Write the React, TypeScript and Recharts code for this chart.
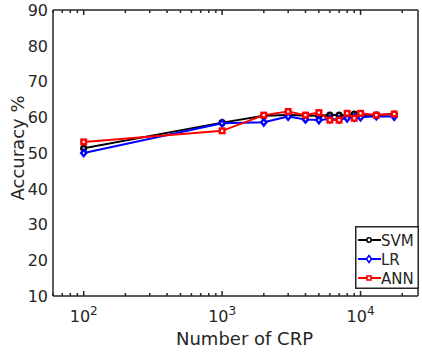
import React from "react";
import { LineChart, Line, XAxis, YAxis, Legend } from "recharts";

const crp = [100, 1000, 2000, 3000, 4000, 5000, 6000, 7000, 8000, 9000, 10000, 13000, 17500];
const svm = [51.3, 58.5, 60.4, 60.6, 60.5, 60.4, 60.6, 60.6, 60.4, 60.9, 60.7, 60.6, 60.9];
const lr = [50.0, 58.3, 58.6, 60.2, 59.4, 59.2, 59.5, 59.4, 59.7, 59.9, 60.0, 60.3, 60.2];
const ann = [53.1, 56.2, 60.6, 61.6, 60.6, 61.3, 59.2, 59.2, 61.1, 59.7, 61.1, 60.6, 60.9];

const xMajorTicks = [100, 1000, 10000];
const xExponents = ["2", "3", "4"];
const xMinorTicks = [60, 70, 80, 90, 200, 300, 400, 500, 600, 700, 800, 900, 2000, 3000, 4000, 5000, 6000, 7000, 8000, 9000, 20000];
const yTicks = [10, 20, 30, 40, 50, 60, 70, 80, 90];
const seriesNames = ["SVM", "LR", "ANN"];
const seriesColors = ["#000000", "#0000ff", "#ff0000"];

const data = crp.map((x, i) => ({ x, svm: svm[i], lr: lr[i], ann: ann[i] }));

const AXIS = "#262626";
const FONT = "DejaVu Sans";
const X_DOMAIN: [number, number] = [60, 26000];
const Y_DOMAIN: [number, number] = [10, 90];
const THIN = 0.01;

const CircleDot = (p: any) => {
  if (p.cx == null || p.cy == null) return null;
  return <circle cx={p.cx} cy={p.cy} r={2.4} fill="#fff" stroke={seriesColors[0]} strokeWidth={2.4} />;
};
const DiamondDot = (p: any) => {
  if (p.cx == null || p.cy == null) return null;
  const r = 3.2;
  return (
    <path
      d={`M${p.cx},${p.cy - r}L${p.cx + r * 0.8},${p.cy}L${p.cx},${p.cy + r}L${p.cx - r * 0.8},${p.cy}Z`}
      fill="#fff"
      stroke={seriesColors[1]}
      strokeWidth={2.4}
    />
  );
};
const SquareDot = (p: any) => {
  if (p.cx == null || p.cy == null) return null;
  const s = 2.3;
  return <rect x={p.cx - s} y={p.cy - s} width={2 * s} height={2 * s} fill="#fff" stroke={seriesColors[2]} strokeWidth={2.4} />;
};

const EmptyTick = () => <g />;

const XTick = (p: any) => {
  const idx = xMajorTicks.indexOf(p.payload.value);
  return (
    <text x={p.x} y={p.y + 26} textAnchor="middle" fontFamily={FONT} fontSize={16} fill={AXIS}>
      <tspan>10</tspan>
      <tspan dy={-7} fontSize={12}>{xExponents[idx]}</tspan>
    </text>
  );
};

const YTick = (p: any) => (
  <text x={p.x - 5} y={p.y} dy="0.36em" textAnchor="end" fontFamily={FONT} fontSize={16} fill={AXIS}>
    {p.payload.value}
  </text>
);

const XLabel = (p: any) => {
  const vb = p.viewBox;
  return (
    <text x={vb.x + vb.width / 2 + 9} y={vb.y + 49} textAnchor="middle" fontFamily={FONT} fontSize={18} fill={AXIS}>
      Number of CRP
    </text>
  );
};

const YLabel = (p: any) => {
  const vb = p.viewBox;
  const cx = 24;
  const cy = vb.y + vb.height / 2 - 5;
  return (
    <text x={cx} y={cy} transform={`rotate(-90 ${cx} ${cy})`} textAnchor="middle" fontFamily={FONT} fontSize={18} fill={AXIS}>
      Accuracy %
    </text>
  );
};

const LegendBox = () => {
  const w = 64;
  const h = 63;
  const rows = [14, 33, 52];
  return (
    <svg width={w} height={h} style={{ display: "block" }}>
      <rect x={0.75} y={0.75} width={w - 1.5} height={h - 1.5} fill="#fff" stroke={AXIS} strokeWidth={1.5} />
      {seriesNames.map((name, i) => {
        const y = rows[i];
        const c = seriesColors[i];
        const mx = 14;
        let marker;
        if (i === 0) marker = <circle cx={mx} cy={y} r={2.2} fill="#fff" stroke={c} strokeWidth={1.6} />;
        else if (i === 1)
          marker = <path d={`M${mx},${y - 3.5}L${mx + 2.6},${y}L${mx},${y + 3.5}L${mx - 2.6},${y}Z`} fill="#fff" stroke={c} strokeWidth={1.6} />;
        else marker = <rect x={mx - 2} y={y - 2} width={4} height={4} fill="#fff" stroke={c} strokeWidth={1.6} />;
        return (
          <g key={name}>
            <line x1={3} x2={26} y1={y} y2={y} stroke={c} strokeWidth={2} />
            {marker}
            <text x={26} y={y + 6} fontFamily={FONT} fontSize={15} fill={AXIS}>
              {name}
            </text>
          </g>
        );
      })}
    </svg>
  );
};

const tickLineStyle = { stroke: AXIS, strokeWidth: 1.5 };

export default function App() {
  return (
    <div style={{ position: "absolute", left: 0, top: 0, width: 422, height: 354, background: "#fff" }}>
      <LineChart width={422} height={354} data={data} margin={{ top: 10, right: 4, bottom: 0, left: 0 }}>
        <XAxis
          xAxisId="bMaj"
          dataKey="x"
          type="number"
          scale="log"
          domain={X_DOMAIN}
          allowDataOverflow
          ticks={xMajorTicks}
          interval={0}
          mirror
          height={THIN}
          tick={<EmptyTick />}
          tickSize={5}
          tickLine={tickLineStyle}
          axisLine={false}
        />
        <XAxis
          xAxisId="bMin"
          dataKey="x"
          type="number"
          scale="log"
          domain={X_DOMAIN}
          allowDataOverflow
          ticks={xMinorTicks}
          interval={0}
          mirror
          height={THIN}
          tick={<EmptyTick />}
          tickSize={3}
          tickLine={tickLineStyle}
          axisLine={false}
        />
        <XAxis
          xAxisId="main"
          dataKey="x"
          type="number"
          scale="log"
          domain={X_DOMAIN}
          allowDataOverflow
          ticks={xMajorTicks}
          interval={0}
          tick={<XTick />}
          tickLine={false}
          tickSize={0}
          tickMargin={0}
          height={58}
          axisLine={tickLineStyle}
          label={<XLabel />}
        />
        <XAxis
          xAxisId="tMaj"
          orientation="top"
          dataKey="x"
          type="number"
          scale="log"
          domain={X_DOMAIN}
          allowDataOverflow
          ticks={xMajorTicks}
          interval={0}
          mirror
          height={THIN}
          tick={<EmptyTick />}
          tickSize={5}
          tickLine={tickLineStyle}
          axisLine={tickLineStyle}
        />
        <XAxis
          xAxisId="tMin"
          orientation="top"
          dataKey="x"
          type="number"
          scale="log"
          domain={X_DOMAIN}
          allowDataOverflow
          ticks={xMinorTicks}
          interval={0}
          mirror
          height={THIN}
          tick={<EmptyTick />}
          tickSize={3}
          tickLine={tickLineStyle}
          axisLine={false}
        />
        <YAxis
          yAxisId="lIn"
          type="number"
          domain={Y_DOMAIN}
          ticks={yTicks}
          interval={0}
          mirror
          width={THIN}
          tick={<EmptyTick />}
          tickSize={5}
          tickLine={tickLineStyle}
          axisLine={false}
        />
        <YAxis
          yAxisId="main"
          type="number"
          domain={Y_DOMAIN}
          ticks={yTicks}
          interval={0}
          width={53}
          tick={<YTick />}
          tickLine={false}
          tickSize={0}
          tickMargin={0}
          axisLine={tickLineStyle}
          label={<YLabel />}
        />
        <YAxis
          yAxisId="right"
          orientation="right"
          type="number"
          domain={Y_DOMAIN}
          ticks={yTicks}
          interval={0}
          mirror
          width={THIN}
          tick={<EmptyTick />}
          tickSize={5}
          tickLine={tickLineStyle}
          axisLine={tickLineStyle}
        />
        <Line xAxisId="main" yAxisId="main" dataKey="svm" name="SVM" stroke={seriesColors[0]} strokeWidth={2} dot={<CircleDot />} isAnimationActive={false} />
        <Line xAxisId="main" yAxisId="main" dataKey="lr" name="LR" stroke={seriesColors[1]} strokeWidth={2} dot={<DiamondDot />} isAnimationActive={false} />
        <Line xAxisId="main" yAxisId="main" dataKey="ann" name="ANN" stroke={seriesColors[2]} strokeWidth={2} dot={<SquareDot />} isAnimationActive={false} />
        <Legend
          layout="vertical"
          align="center"
          verticalAlign="middle"
          wrapperStyle={{ position: "absolute", left: 355, top: 226, width: 64, height: 63 }}
          content={() => <LegendBox />}
        />
      </LineChart>
    </div>
  );
}
